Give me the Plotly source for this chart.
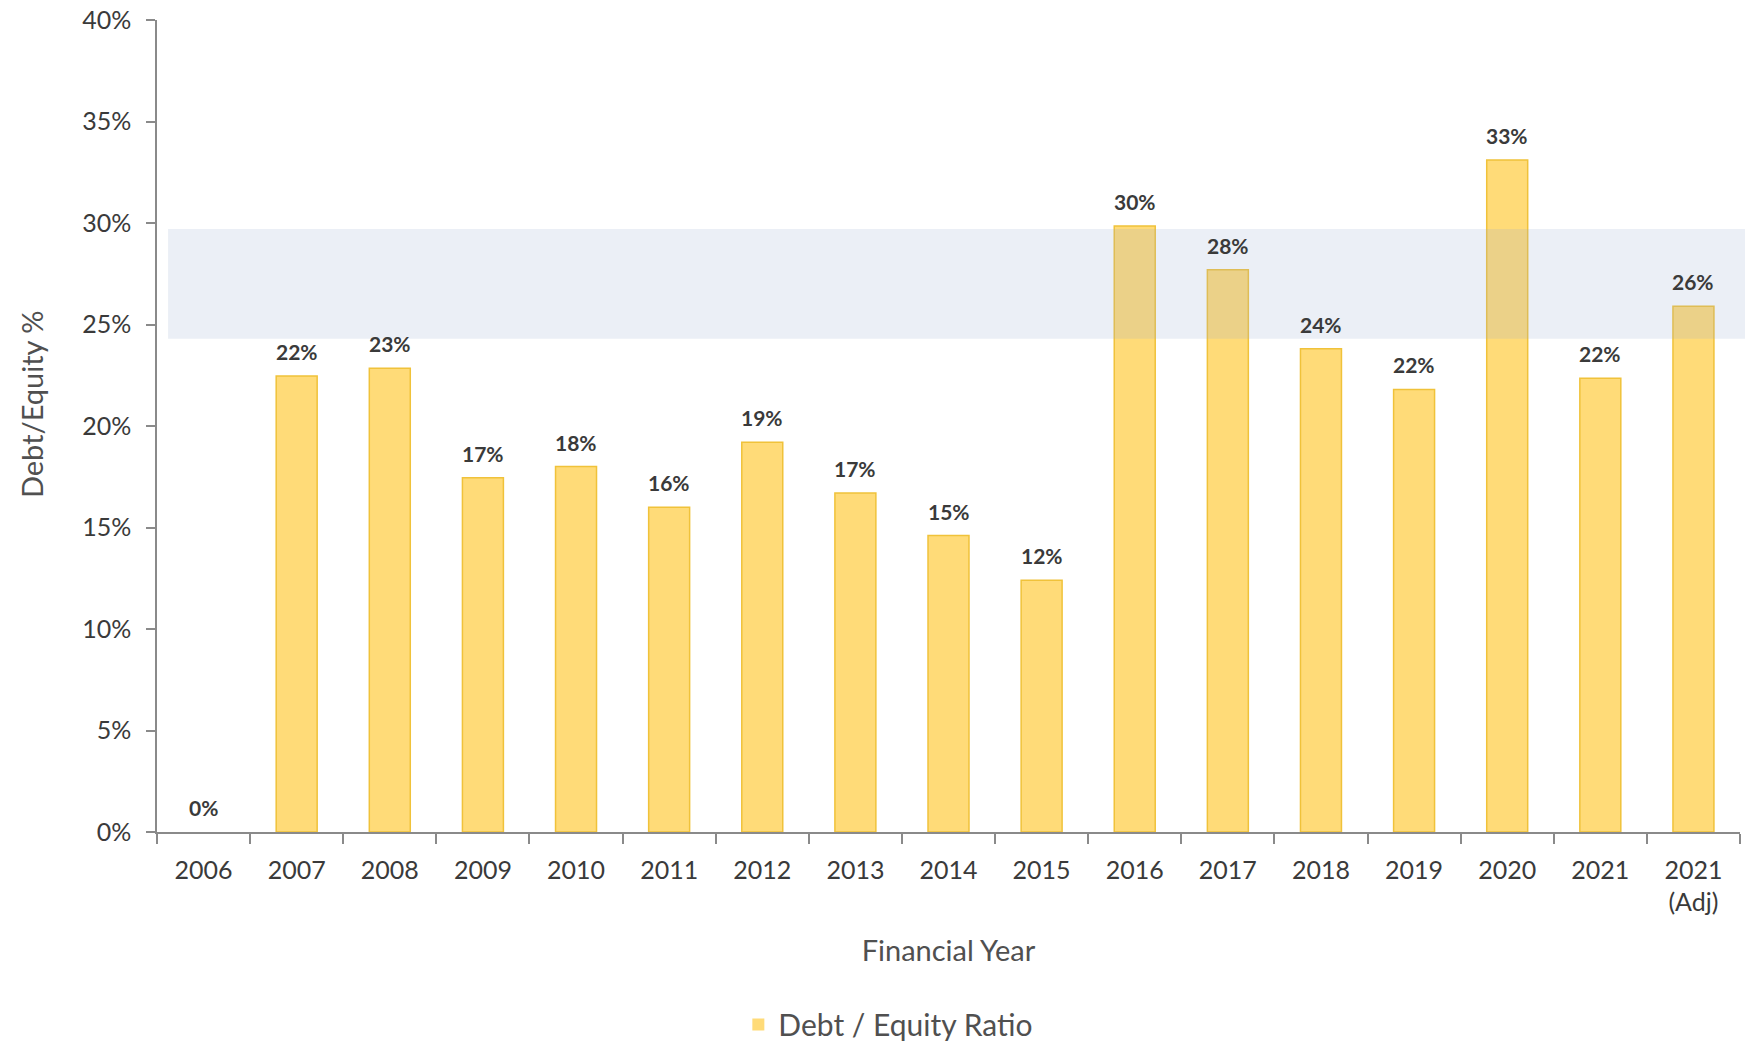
import plotly.graph_objects as go

categories = ["2006", "2007", "2008", "2009", "2010", "2011", "2012", "2013", "2014",
              "2015", "2016", "2017", "2018", "2019", "2020", "2021", "2021<br>(Adj)"]
debt_equity = [0.0, 0.2246, 0.2285, 0.1745, 0.1800, 0.1600, 0.1920, 0.1670, 0.1460,
               0.1240, 0.2985, 0.2770, 0.2380, 0.2180, 0.3310, 0.2235, 0.2590]
y_ticks = [0, 0.05, 0.10, 0.15, 0.20, 0.25, 0.30, 0.35, 0.40]
band_low, band_high = 0.243, 0.297

FONT = "Lato"
TXT = "#3a3a3a"
TITLE = "#505050"
AX = "#8a8a8a"

fig = go.Figure()
fig.add_trace(go.Bar(
    x=categories, y=debt_equity, name="Debt / Equity Ratio",
    marker=dict(color="#FFDB78",
                line=dict(color="#F0C23A", width=[1.5 if v > 0 else 0 for v in debt_equity])),
    showlegend=True,
))

for i, v in enumerate(debt_equity):
    fig.add_annotation(x=i, y=v, xref="x", yref="y", text=f"<b>{v:.0%}</b>",
                       showarrow=False, yanchor="bottom", yshift=10,
                       font=dict(family=FONT, size=21, color=TXT))

# y-axis title placed as an annotation (sits slightly above the plot centre)
fig.add_annotation(text="Debt/Equity %", xref="paper", yref="paper", x=-0.0796, y=0.527,
                   xanchor="center", yanchor="middle", textangle=-90, showarrow=False,
                   font=dict(family=FONT, size=29, color=TITLE))

fig.add_shape(type="rect", xref="paper", yref="y", x0=0.007, x1=1.01,
              y0=band_low, y1=band_high, line=dict(width=0),
              fillcolor="rgba(150,170,205,0.19)", layer="above")

fig.update_layout(
    width=1745, height=1044,
    margin=dict(l=157, r=5, t=20, b=212, autoexpand=False),
    paper_bgcolor="white", plot_bgcolor="white",
    bargap=0.56,
    font=dict(family=FONT, color=TXT),
    showlegend=True,
    legend=dict(orientation="h", x=0.462, xanchor="center", y=-0.205, yanchor="top",
                font=dict(family=FONT, size=30, color=TITLE)),
    xaxis=dict(type="category", categoryorder="array", categoryarray=categories,
               range=[-0.5, len(categories) - 0.5], autorange=False,
               tickson="boundaries", ticks="outside", ticklen=10, tickangle=0,
               tickcolor=AX, tickwidth=1.5, showline=True, linecolor=AX, linewidth=1.5,
               showgrid=False, ticklabelstandoff=15,
               tickfont=dict(family=FONT, size=25, color=TXT),
               title=dict(text="Financial Year", standoff=25,
                          font=dict(family=FONT, size=29, color=TITLE))),
    yaxis=dict(range=[0, 0.40], tickvals=y_ticks, tickformat=".0%", ticks="outside",
               ticklen=9, tickcolor=AX, tickwidth=1.5, showline=True, linecolor=AX,
               linewidth=1.5, showgrid=False, zeroline=False, ticklabelstandoff=10,
               tickfont=dict(family=FONT, size=25, color=TXT)),
)

fig.write_html("out.html")
